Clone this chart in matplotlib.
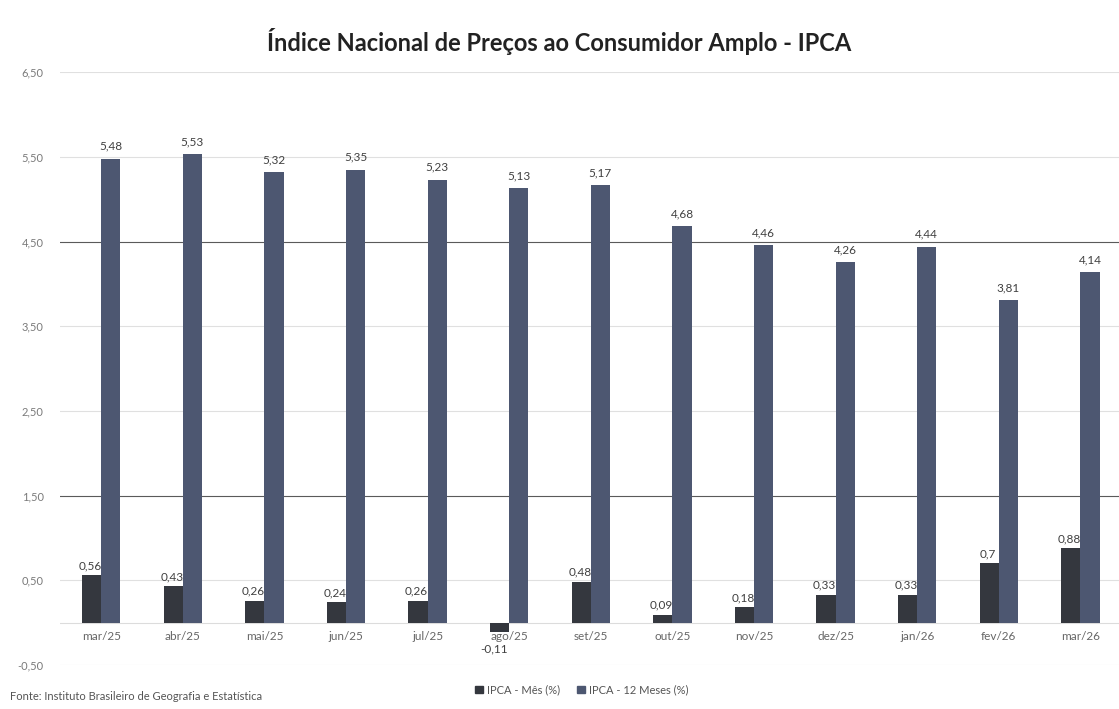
import matplotlib
matplotlib.use("Agg")
import matplotlib.pyplot as plt
from matplotlib.patches import Patch
import numpy as np

categories = ["mar/25", "abr/25", "mai/25", "jun/25", "jul/25", "ago/25", "set/25",
              "out/25", "nov/25", "dez/25", "jan/26", "fev/26", "mar/26"]
ipca_mes = [0.56, 0.43, 0.26, 0.24, 0.26, -0.11, 0.48, 0.09, 0.18, 0.33, 0.33, 0.70, 0.88]
ipca_12m = [5.48, 5.53, 5.32, 5.35, 5.23, 5.13, 5.17, 4.68, 4.46, 4.26, 4.44, 3.81, 4.14]
mes_labels = ["0,56", "0,43", "0,26", "0,24", "0,26", "-0,11", "0,48", "0,09", "0,18",
              "0,33", "0,33", "0,7", "0,88"]
yticks = [-0.5, 0.5, 1.5, 2.5, 3.5, 4.5, 5.5, 6.5]
target_lines = [1.5, 4.5]

plt.rcParams['font.family'] = ['Lato', 'DejaVu Sans']

fig = plt.figure(figsize=(11.19, 7.09), dpi=100)
ax = fig.add_axes([0.054, 0.062, 0.948, 0.836])

x = np.arange(len(categories))
w = 0.235
c_mes = "#34373e"
c_12 = "#4d5771"

for y in yticks:
    lw, col = (0.8, "#5a5a5a") if y in target_lines else (0.8, "#e0e0e0")
    ax.axhline(y, color=col, lw=lw, zorder=0)
ax.axhline(0, color="#dcdcdc", lw=0.8, zorder=0)

ax.bar(x - w / 2, ipca_mes, width=w, color=c_mes, zorder=2)
ax.bar(x + w / 2, ipca_12m, width=w, color=c_12, zorder=2)

for i, v in enumerate(ipca_12m):
    ax.annotate(f"{v:.2f}".replace(".", ","), (x[i] + w / 2, v), xytext=(0, 5),
                textcoords="offset points", ha="center", va="bottom",
                fontsize=8.5, color="#404040")
for i, v in enumerate(ipca_mes):
    if v >= 0:
        ax.annotate(mes_labels[i], (x[i] - w / 2, v), xytext=(-1, 3),
                    textcoords="offset points", ha="center", va="bottom",
                    fontsize=8.5, color="#404040", zorder=1)
    else:
        ax.annotate(mes_labels[i], (x[i] - w / 2, v), xytext=(-4, -8),
                    textcoords="offset points", ha="center", va="top",
                    fontsize=8.5, color="#404040", zorder=3)
for i, c in enumerate(categories):
    ax.annotate(c, (x[i], 0), xytext=(0, -6), textcoords="offset points",
                ha="center", va="top", fontsize=8.5, color="#666666", zorder=1)

ax.set_xlim(-0.5, len(categories) - 0.5)
ax.set_ylim(-0.5, 6.5)
ax.set_yticks(yticks)
ax.set_yticklabels([f"{t:.2f}".replace(".", ",") for t in yticks], fontsize=8, color="#7a7a7a")
ax.tick_params(axis="y", length=0, pad=12)
ax.set_xticks([])
for s in ax.spines.values():
    s.set_visible(False)

fig.text(0.5, 0.942, "Índice Nacional de Preços ao Consumidor Amplo - IPCA",
         ha="center", va="center", fontsize=17, fontweight="bold", color="#222222")

handles = [Patch(color=c_mes, label="IPCA - Mês (%)"),
           Patch(color=c_12, label="IPCA - 12 Meses (%)")]
fig.legend(handles=handles, loc="center", bbox_to_anchor=(0.52, 0.027), ncol=2,
           frameon=False, fontsize=8, handlelength=0.7, handleheight=0.7,
           columnspacing=1.5, handletextpad=0.4, labelcolor="#555555")

fig.text(0.009, 0.01, "Fonte: Instituto Brasileiro de Geografia e Estatística",
         ha="left", va="bottom", fontsize=8, color="#555555")

fig.savefig("out.png", dpi=100)
